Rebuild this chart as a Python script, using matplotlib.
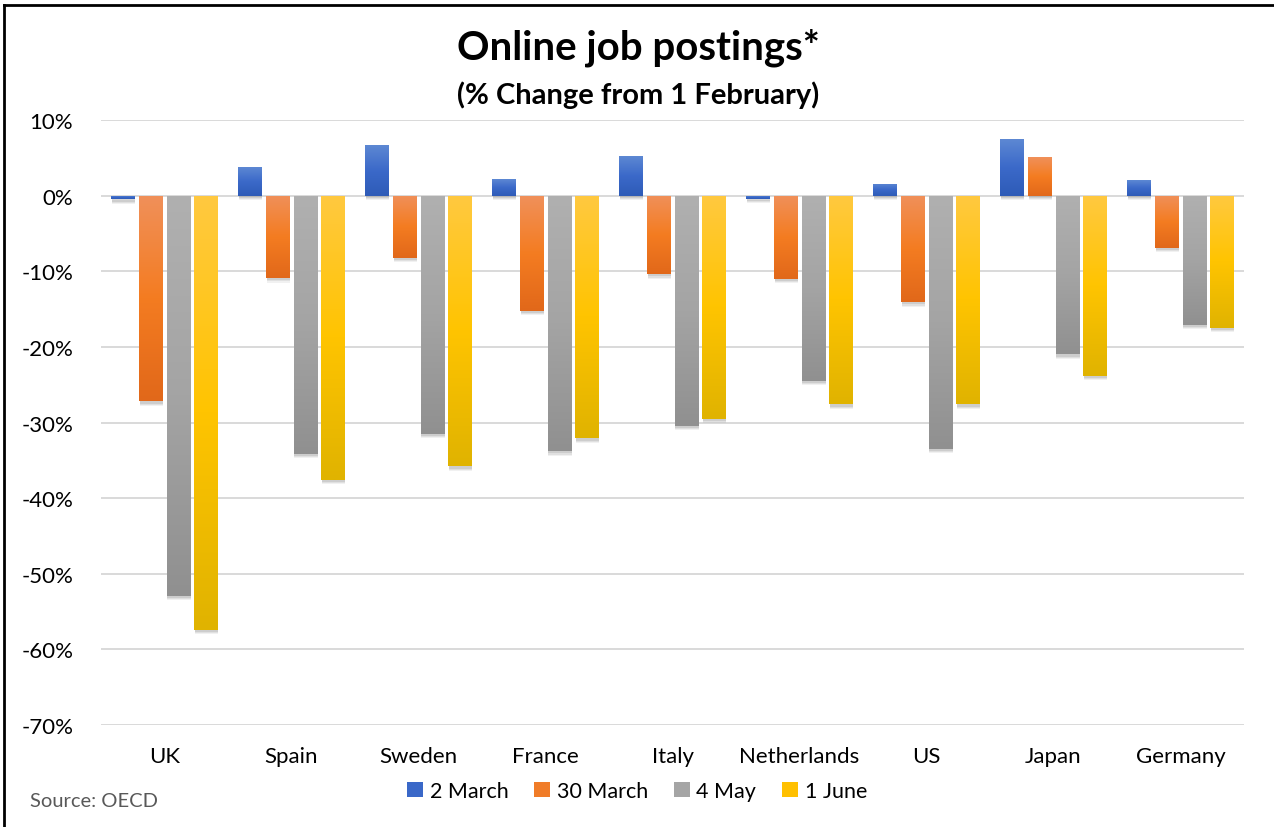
import numpy as np
import matplotlib
matplotlib.use("Agg")
import matplotlib.pyplot as plt
from matplotlib.colors import LinearSegmentedColormap
from matplotlib.lines import Line2D
from matplotlib.patches import Patch
import matplotlib.patheffects as pe

plt.rcParams['font.family'] = ['Lato', 'DejaVu Sans']

# ---- data: % change in online job postings vs 1 February ----
countries = ['UK', 'Spain', 'Sweden', 'France', 'Italy', 'Netherlands', 'US', 'Japan', 'Germany']
series_names = ['2 March', '30 March', '4 May', '1 June']
march_2 = [-0.5, 3.8, 6.7, 2.2, 5.2, -0.4, 1.6, 7.5, 2.1]
march_30 = [-27.2, -10.9, -8.2, -15.2, -10.4, -11.0, -14.1, 5.1, -6.9]
may_4 = [-52.9, -34.1, -31.5, -33.8, -30.4, -24.5, -33.5, -21.0, -17.1]
june_1 = [-57.4, -37.6, -35.8, -32.1, -29.5, -27.6, -27.6, -23.8, -17.5]
yticks = [10, 0, -10, -20, -30, -40, -50, -60, -70]

# gradient stops per series: bottom -> middle -> top
gradients = [
    ['#2E5BB7', '#3B69C9', '#5D88D3'],
    ['#E1681A', '#F47C21', '#F0905A'],
    ['#909090', '#A4A4A4', '#B0B0B0'],
    ['#E0B300', '#FFC400', '#FFC940'],
]
legend_colors = ['#3A68C8', '#F07C28', '#A5A5A5', '#FFC000']

W, H = 1274, 828
fig = plt.figure(figsize=(W / 100, H / 100), dpi=100)
ax = fig.add_axes([101 / W, 1 - 726 / H, (1244 - 101) / W, (726 - 121) / H])

x = np.arange(len(countries))
pitch, width = 0.217, 0.184
values = [march_2, march_30, may_4, june_1]
grad = np.linspace(0, 1, 256).reshape(-1, 1)

# soft drop shadow: a few stacked, faint offset copies
shadow = [pe.SimplePatchShadow(offset=(0.4, -d), shadow_rgbFace='#7a7a7a', alpha=a)
          for d, a in [(3.2, 0.10), (2.4, 0.14), (1.6, 0.18)]]

for i, (vals, stops) in enumerate(zip(values, gradients)):
    bars = ax.bar(x + (i - 1.5) * pitch, vals, width=width,
                  facecolor='none', edgecolor='none', zorder=2)
    cmap = LinearSegmentedColormap.from_list(f'g{i}', stops)
    for b in bars:
        b.set_path_effects(shadow + [pe.Normal()])
        x0, w = b.get_x(), b.get_width()
        y0, h = b.get_y(), b.get_height()
        lo, hi = min(y0, y0 + h), max(y0, y0 + h)
        im = ax.imshow(grad, cmap=cmap, origin='lower', aspect='auto',
                       extent=[x0, x0 + w, lo, hi], zorder=3,
                       interpolation='bilinear')
        im.set_clip_path(b)

ax.set_xlim(-0.5, len(countries) - 0.5)
ax.set_ylim(-70, 10)
ax.set_yticks(yticks)
ax.set_yticklabels([f'{v}%' for v in yticks])
ax.set_xticks(x)
ax.set_xticklabels(countries)
ax.yaxis.grid(True, color='#D9D9D9', lw=1.4, zorder=0)
ax.set_axisbelow(True)
for s in ax.spines.values():
    s.set_visible(False)
ax.tick_params(axis='both', length=0, labelsize=16, colors='black')
ax.tick_params(axis='y', pad=20)
ax.tick_params(axis='x', pad=15)

fig.text(0.501, 1 - 48 / H, 'Online job postings*', ha='center', va='center',
         fontsize=29, fontweight='bold')
fig.text(0.501, 1 - 95 / H, '(% Change from 1 February)', ha='center', va='center',
         fontsize=21, fontweight='bold')
fig.text(30 / W, 1 - 802 / H, 'Source: OECD', ha='left', va='center',
         fontsize=14.5, color='#595959')

handles = [Patch(facecolor=c, edgecolor='none') for c in legend_colors]
fig.legend(handles, series_names, loc='center', bbox_to_anchor=(637 / W, 1 - 792 / H),
           ncol=4, frameon=False, fontsize=15.5, handlelength=0.75, handleheight=0.75,
           handletextpad=0.3, columnspacing=1.2)

# frame lines along the top and left edge
fig.add_artist(Line2D([4 / W, 1], [1 - 6 / H, 1 - 6 / H], transform=fig.transFigure,
                      color='black', lw=2))
fig.add_artist(Line2D([4 / W, 4 / W], [0, 1 - 6 / H], transform=fig.transFigure,
                      color='black', lw=2))

fig.savefig('out.png', dpi=100, facecolor='white')
